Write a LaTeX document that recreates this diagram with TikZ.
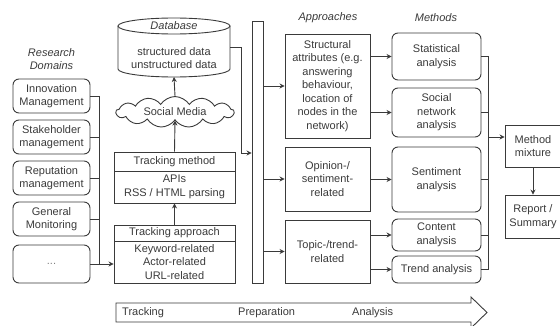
\documentclass[tikz,border=0pt]{standalone}
\usepackage{fontspec}
\setmainfont{Liberation Sans}
\usetikzlibrary{shapes.symbols,arrows.meta,calc}
\definecolor{ink}{HTML}{3A3A3A}
\tikzset{
  base/.style={draw=ink, line width=0.9pt, text=ink, align=center, inner sep=0pt,
    font=\fontsize{11}{13.5}\selectfont},
  box/.style={base, rectangle},
  rbox/.style={base, rectangle, rounded corners=6pt},
  lbl/.style={text=ink, align=center, inner sep=0pt, font=\fontsize{11}{13.5}\selectfont\itshape},
  plain/.style={text=ink, inner sep=0pt, font=\fontsize{11}{13.5}\selectfont},
  arr/.style={draw=ink, line width=0.9pt, -{Stealth[length=5pt,width=5pt]}},
  ln/.style={draw=ink, line width=0.9pt},
}
\begin{document}
\begin{tikzpicture}[x=1pt,y=-1pt]
\useasboundingbox (0,0) rectangle (560,326);

% Research domains
\node[lbl] (rd) at (51.5,59) {Research\\Domains};
\node[rbox, minimum width=77, minimum height=34] (d1) at (51.5,96) {Innovation\\Management};
\node[rbox, minimum width=77, minimum height=34] (d2) at (51.5,137) {Stakeholder\\management};
\node[rbox, minimum width=77, minimum height=34] (d3) at (51.5,178) {Reputation\\management};
\node[rbox, minimum width=77, minimum height=34] (d4) at (51.5,219) {General\\Monitoring};
\node[rbox, minimum width=77, minimum height=38, text=gray] (d5) at (51.5,264) {...};
\coordinate (lb) at (99,0);

% Tracking approach
\node[box, minimum width=121, minimum height=16] (tah) at (174.5,233) {Tracking approach};
\node[box, minimum width=121, minimum height=42] (tab) at (174.5,262) {Keyword-related\\Actor-related\\URL-related};
% Tracking method
\node[box, minimum width=121, minimum height=19] (tmh) at (174.5,161.5) {Tracking method};
\node[box, minimum width=121, minimum height=32] (tmb) at (174.5,187) {APIs\\RSS / HTML parsing};

% Social media cloud
\node[base, cloud, cloud puffs=13, cloud puff arc=115, aspect=4.5, minimum width=118, minimum height=30] (sm) at (175,112) {Social Media};

% Database cylinder
\filldraw[ln, fill=white] (118,26) -- (118,69) arc[start angle=180, end angle=360, x radius=56pt, y radius=8pt] -- (230,26);
\draw[ln] (174,26) ellipse [x radius=56pt, y radius=8pt];
\node[lbl] (dbl) at (174,26) {Database};
\node[plain, align=center, minimum width=112, minimum height=43] (db) at (174,58) {structured data\\unstructured data};
\coordinate (dbbot) at (174,77);
\coordinate (dbr) at (230,47);

% Preparation bar
\node[box, minimum width=11, minimum height=262] (bar) at (257.5,152) {};

% Approaches
\node[lbl] (apl) at (328,18) {Approaches};
\node[box, minimum width=85, minimum height=104] (a1) at (327.5,86) {Structural\\attributes (e.g.\\answering\\behaviour,\\location of\\nodes in the\\network)};
\node[box, minimum width=85, minimum height=64] (a2) at (327.5,179) {Opinion-/\\sentiment-\\related};
\node[box, minimum width=85, minimum height=63] (a3) at (327.5,251.5) {Topic-/trend-\\related};

% Methods
\node[lbl] (mel) at (436,18) {Methods};
\node[rbox, minimum width=89, minimum height=47] (m1) at (436.5,56.5) {Statistical\\analysis};
\node[rbox, minimum width=89, minimum height=49] (m2) at (436.5,112.5) {Social\\network\\analysis};
\node[rbox, minimum width=89, minimum height=65] (m3) at (436.5,179.5) {Sentiment\\analysis};
\node[rbox, minimum width=89, minimum height=32] (m4) at (436.5,235) {Content\\analysis};
\node[rbox, minimum width=89, minimum height=27] (m5) at (436.5,269.5) {Trend analysis};
\coordinate (rb) at (488,0);

% Method mixture / report
\node[box, minimum width=56, minimum height=42] (mm) at (533,146) {Method\\mixture};
\node[box, minimum width=56, minimum height=43] (rs) at (533,216.5) {Report /\\Summary};

% --- connectors ---
\foreach \d in {d1,d2,d3,d4} \draw[ln] (\d.east) -- (\d.east -| lb);
\draw[ln] (d1.east -| lb) -- (d5.east -| lb);
\draw[arr] (d5.east) -- (d5.east -| tab.west);
\draw[arr] (tah.north) -- (tmb.south);
\draw[arr] (tmh.north) -- (sm.south);
\draw[arr] (sm.north) -- (dbbot);
\draw[arr] (dbr) -- ++(11,0) |- ($(bar.west)+(0,1)$);

\draw[arr] (bar.east |- a1.west) -- (a1.west);
\draw[arr] (bar.east |- a2.west) -- (a2.west);
\draw[arr] (bar.east |- a3.west) -- (a3.west);

\draw[arr] (a1.east |- m1.west) -- (m1.west);
\draw[arr] (a1.east |- m2.west) -- (m2.west);
\draw[arr] (a2.east |- m3.west) -- (m3.west);
\draw[arr] (a3.east |- m4.west) -- (m4.west);
\draw[arr] (a3.east |- m5.west) -- (m5.west);

\foreach \m in {m1,m2,m3,m4,m5} \draw[ln] (\m.east) -- (\m.east -| rb);
\draw[ln] (m1.east -| rb) -- (m5.east -| rb);
\coordinate (mj) at (488,137);
\draw[arr] (mj) -- (mj -| mm.west);
\draw[arr] (mm.south) -- (rs.north);

% Bottom process arrow
\draw[ln, line join=miter] (116,303) -- (471,303) -- (471,297) -- (487,312.5) -- (471,328) -- (471,322) -- (116,322) -- cycle;
\node[plain, anchor=west] (ptr) at (122,313) {Tracking};
\node[plain, anchor=west] (ppr) at (238,313) {Preparation};
\node[plain, anchor=west] (pan) at (352,313) {Analysis};
\end{tikzpicture}
\end{document}
